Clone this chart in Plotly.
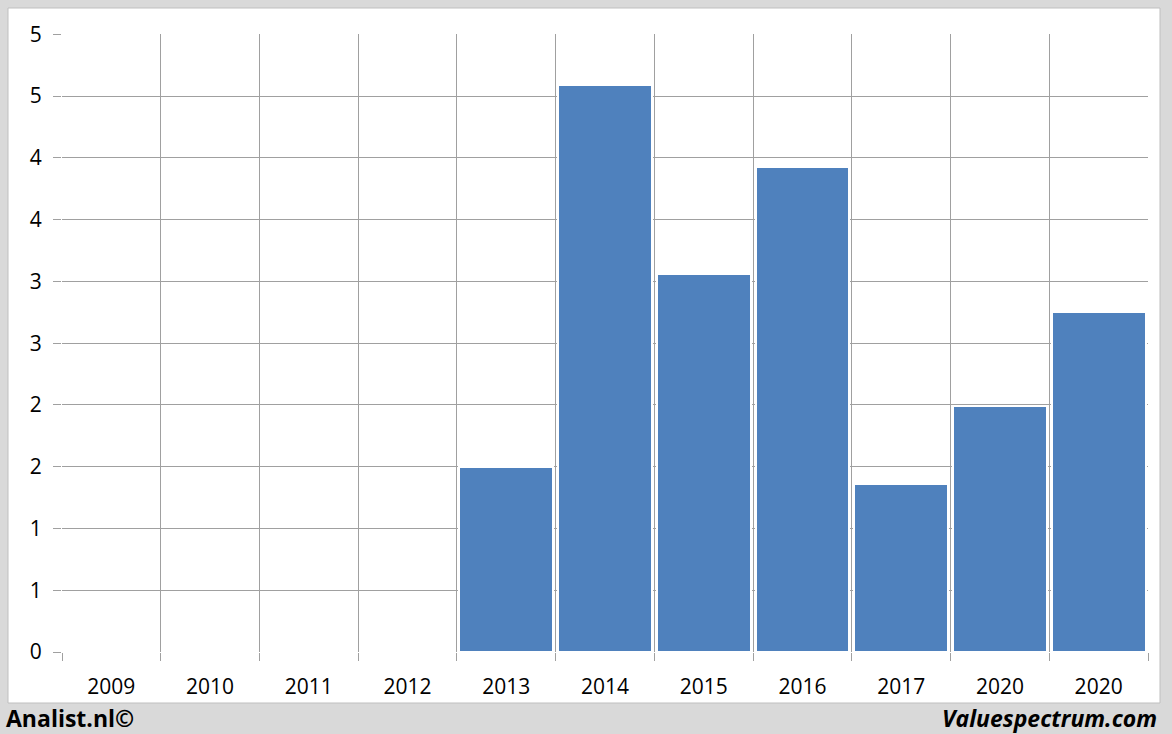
import plotly.graph_objects as go

categories = ["2009", "2010", "2011", "2012", "2013", "2014", "2015", "2016", "2017", "2020", "2020"]
values = [None, None, None, None, 1.5, 4.59, 3.06, 3.93, 1.36, 1.99, 2.75]
y_tickvals = [0, 0.5, 1.0, 1.5, 2.0, 2.5, 3.0, 3.5, 4.0, 4.5, 5.0]
y_ticktext = ["0", "1", "1", "2", "2", "3", "3", "4", "4", "5", "5"]

W, H = 1172, 734
L, R, T, B = 62, 1148, 34, 652
pw, ph = R - L, B - T

def px_x(x):
    return (x - L) / pw

def px_y(y):
    return (B - y) / ph

xs = list(range(len(categories)))
grid = "#a0a0a0"

fig = go.Figure()
fig.add_trace(go.Bar(
    x=xs, y=values, width=0.95,
    marker=dict(color="#4f81bd", line=dict(color="white", width=2)),
    hoverinfo="skip",
))

fig.add_shape(type="rect", xref="paper", yref="paper",
              x0=px_x(8), x1=px_x(1160), y0=px_y(703), y1=px_y(8),
              fillcolor="white", line=dict(color="#bfbfbf", width=1), layer="below")

fig.update_layout(
    width=W, height=H,
    margin=dict(l=L, r=W - R, t=T, b=H - B, pad=0),
    paper_bgcolor="#d9d9d9",
    plot_bgcolor="white",
    showlegend=False,
    bargap=0,
    font=dict(family="Open Sans", size=21, color="black"),
    xaxis=dict(
        range=[-0.5, len(categories) - 0.5],
        tickvals=xs, ticktext=categories,
        ticks="", showgrid=False, zeroline=False,
        showline=False,
        ticklabelstandoff=20,
        tickfont=dict(size=21),
        minor=dict(tickvals=[i - 0.5 for i in range(len(categories) + 1)],
                   ticks="outside", ticklen=8, tickcolor=grid,
                   showgrid=True, gridcolor=grid, gridwidth=1),
        fixedrange=True,
    ),
    yaxis=dict(
        range=[0, 5.003],
        tickvals=y_tickvals, ticktext=y_ticktext,
        ticks="outside", ticklen=8, tickcolor=grid,
        showgrid=True, gridcolor=grid, gridwidth=1,
        zeroline=False, showline=False,
        ticklabelstandoff=7,
        tickfont=dict(size=21),
        fixedrange=True,
    ),
    annotations=[
        dict(text="<b>Analist.nl©</b>", xref="paper", yref="paper",
             x=px_x(4), y=px_y(718), xanchor="left", yanchor="middle",
             showarrow=False, font=dict(family="Open Sans", size=23, color="black")),
        dict(text="<b><i>Valuespectrum.com</i></b>", xref="paper", yref="paper",
             x=px_x(1159), y=px_y(718), xanchor="right", yanchor="middle",
             showarrow=False, font=dict(family="Open Sans", size=23, color="black")),
    ],
)

fig.write_html("out.html", config={"displayModeBar": False},
               post_script="document.body.style.margin='0';document.body.style.overflow='hidden';")
